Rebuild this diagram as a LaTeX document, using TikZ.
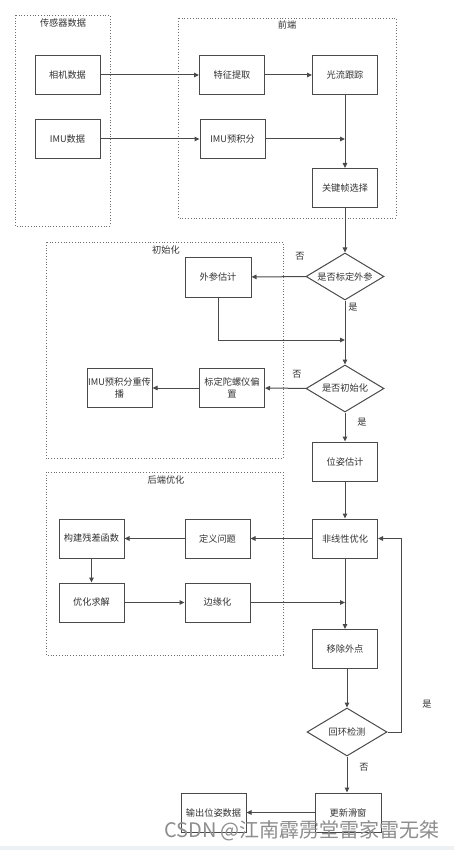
\documentclass[tikz,border=0pt]{standalone}
\usepackage{fontspec}
\setmainfont{Noto Sans CJK SC}
\usetikzlibrary{shapes.geometric,arrows.meta}
\definecolor{ln}{HTML}{4A4A4A}
\definecolor{tx}{HTML}{333333}
\definecolor{grp}{HTML}{707070}
\definecolor{wm}{HTML}{8E8E8E}
\definecolor{strip}{HTML}{EEF1F4}
\begin{document}
\begin{tikzpicture}[x=1pt,y=-1pt,
  box/.style={draw=ln, line width=1pt, minimum width=65pt, minimum height=39pt,
    inner sep=1pt, font=\fontsize{9.2}{12}\selectfont, text=tx, align=center},
  dia/.style={draw=ln, line width=1pt, diamond, aspect=1.66, minimum width=78pt,
    minimum height=47pt, inner sep=0pt, font=\fontsize{9.2}{12}\selectfont, text=tx},
  grpbox/.style={draw=grp, dotted, line width=0.8pt},
  ttl/.style={font=\fontsize{9.2}{12}\selectfont, text=tx, inner sep=0pt},
  lbl/.style={font=\fontsize{9.2}{12}\selectfont, text=tx, inner sep=0pt},
  arr/.style={draw=ln, line width=1pt, -{Triangle[width=4.5pt,length=5pt]}},
  lne/.style={draw=ln, line width=1pt}
]
\useasboundingbox (0,0) rectangle (454,850);
\fill[white] (0,0) rectangle (454,850);
\fill[strip] (0,846) rectangle (454,850);

% groups
\draw[grpbox] (15,15) rectangle (110,226);
\node[ttl] (t1) at (63,23) {传感器数据};
\draw[grpbox] (178,18) rectangle (396,218);
\node[ttl] (t2) at (287,25) {前端};
\draw[grpbox] (46,242) rectangle (283,458);
\node[ttl] (t3) at (166,250) {初始化};
\draw[grpbox] (46,472) rectangle (283,655);
\node[ttl] (t4) at (166,480) {后端优化};

% nodes
\node[box] (cam) at (67.5,75) {相机数据};
\node[box] (imu) at (67.5,139) {IMU数据};
\node[box] (fe) at (232,75) {特征提取};
\node[box] (of) at (345,75) {光流跟踪};
\node[box] (ip) at (232.5,139) {IMU预积分};
\node[box] (kf) at (345,188) {关键帧选择};
\node[dia] (d1) at (345,276.5) {是否标定外参};
\node[box, minimum width=66pt, minimum height=40pt] (ex) at (218,277) {外参估计};
\node[dia] (d2) at (345,388.5) {是否初始化};
\node[box] (gb) at (232,388) {标定陀螺仪偏\\置};
\node[box] (rp) at (119.5,388) {IMU预积分重传\\播};
\node[box] (pe) at (345,461.5) {位姿估计};
\node[box] (nl) at (345,538.5) {非线性优化};
\node[box] (dp) at (217.5,538.5) {定义问题};
\node[box] (rc) at (91.5,538.5) {构建残差函数};
\node[box] (os) at (91.5,602.5) {优化求解};
\node[box] (mg) at (217.5,602.5) {边缘化};
\node[box] (rm) at (345,649) {移除外点};
\node[dia, minimum width=80pt, minimum height=48pt] (lc) at (347,732) {回环检测};
\node[box, minimum width=66pt] (us) at (348,812.5) {更新滑窗};
\node[box] (op) at (213.5,812.5) {输出位姿数据};

% junction coordinates
\coordinate (j1) at (345,139);
\coordinate (j2) at (345,340);
\coordinate (j3) at (345,602.5);
\coordinate (lp) at (401,732);

% connectors
\draw[arr] (cam) -- (fe);
\draw[arr] (fe) -- (of);
\draw[arr] (imu) -- (ip);
\draw[arr] (ip) -- (j1);
\draw[arr] (of) -- (kf);
\draw[arr] (kf) -- (d1);
\draw[arr] (d1) -- (ex);
\draw[arr] (ex.south) |- (j2);
\draw[arr] (d1) -- (d2);
\draw[arr] (d2) -- (gb);
\draw[arr] (gb) -- (rp);
\draw[arr] (d2) -- (pe);
\draw[arr] (pe) -- (nl);
\draw[arr] (nl) -- (dp);
\draw[arr] (dp) -- (rc);
\draw[arr] (rc) -- (os);
\draw[arr] (os) -- (mg);
\draw[arr] (mg) -- (j3);
\draw[arr] (nl) -- (rm);
\draw[arr] (lc.north |- rm.south) -- (lc.north);
\draw[arr] (lc.east) -- (lp) |- (nl.east);
\draw[arr] (lc.south) -- (lc.south |- us.north);
\draw[arr] (us) -- (op);

% labels
\node[lbl] (n1) at (300,256) {否};
\node[lbl] (y1) at (353,307) {是};
\node[lbl] (n2) at (297,374) {否};
\node[lbl] (y2) at (362,422) {是};
\node[lbl] (y3) at (427,704) {是};
\node[lbl] (n3) at (364,767) {否};

% watermark
\node[font=\fontsize{20}{24}\selectfont, text=wm, inner sep=0pt] (wmk) at (302,831) {CSDN @江南霹雳堂雷家雷无桀};
\end{tikzpicture}
\end{document}
